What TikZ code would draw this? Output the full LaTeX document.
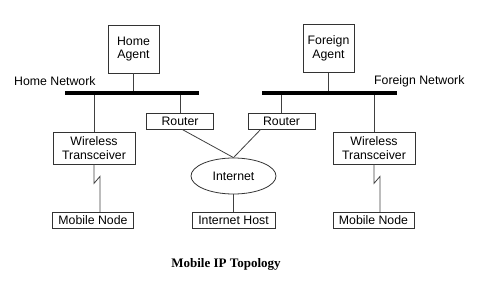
\documentclass[tikz,border=0pt]{standalone}
\usepackage{fontspec}
\setmainfont{Liberation Sans}
\newfontfamily\captionserif{Liberation Serif}
\usetikzlibrary{shapes.geometric}

\begin{document}
\begin{tikzpicture}[
  x=1pt, y=-1pt,
  box/.style={draw=black!80, align=center, inner sep=1pt, line width=0.8pt,
    font=\fontsize{12.3}{13.5}\selectfont},
  agent/.style={box, minimum width=51pt, minimum height=48pt},
  radio/.style={box, minimum width=82pt, minimum height=32pt},
  small/.style={box, minimum width=81pt, minimum height=16pt},
  router/.style={box, minimum width=67pt, minimum height=16pt},
  cloud/.style={box, ellipse, minimum width=85pt, minimum height=36pt},
  bus/.style={fill=black, inner sep=0pt, minimum height=4.5pt},
  lbl/.style={font=\fontsize{12.3}{13.5}\selectfont, inner sep=0pt, anchor=west},
  link/.style={draw=black!75, line width=0.8pt},
]
\useasboundingbox (0,0) rectangle (479,297);

\node[agent] (hagent) at (133.5,49) {Home\\Agent};
\node[agent] (fagent) at (328.5,48.5) {Foreign\\Agent};
\node[bus, minimum width=134pt] (hnet) at (132,93) {};
\node[bus, minimum width=135pt] (fnet) at (329.5,93) {};
\node[lbl] (hnetlbl) at (14,81) {Home Network};
\node[lbl] (fnetlbl) at (374,81) {Foreign Network};
\node[router] (hrouter) at (180,121) {Router};
\node[router] (frouter) at (281.5,121) {Router};
\node[radio] (hradio) at (94,148) {Wireless\\Transceiver};
\node[radio] (fradio) at (374,148) {Wireless\\Transceiver};
\node[small] (hmobile) at (93,220.5) {Mobile Node};
\node[small] (fmobile) at (373.5,220.5) {Mobile Node};
\node[cloud] (inet) at (233.5,176) {Internet};
\node[small, minimum width=83pt] (host) at (233.5,220) {Internet Host};
\node[font=\captionserif\bfseries\fontsize{13}{15}\selectfont, anchor=base]
  (caption) at (226,267) {Mobile IP Topology};

\draw[link] (hagent.south) -- (hagent.south |- hnet.north);
\draw[link] (fagent.south) -- (fagent.south |- fnet.north);
\draw[link] (hnet.south -| hradio.north) -- (hradio.north);
\draw[link] (hnet.south -| hrouter.north) -- (hrouter.north);
\draw[link] (fnet.south -| frouter.north) -- (frouter.north);
\draw[link] (fnet.south -| fradio.north) -- (fradio.north);
\draw[link] (hrouter.-76) -- (inet.north);
\draw[link] (frouter.-158) -- (inet.north);
\draw[link] (inet) -- (host);
% radio links
\draw[link] (hradio.south) -- ++(0,19) -- ++(6,-7) coordinate (hbolt) -- (hbolt |- hmobile.north);
\draw[link] (fradio.south) -- ++(0,19) -- ++(6,-7) coordinate (fbolt) -- (fbolt |- fmobile.north);
\end{tikzpicture}
\end{document}
